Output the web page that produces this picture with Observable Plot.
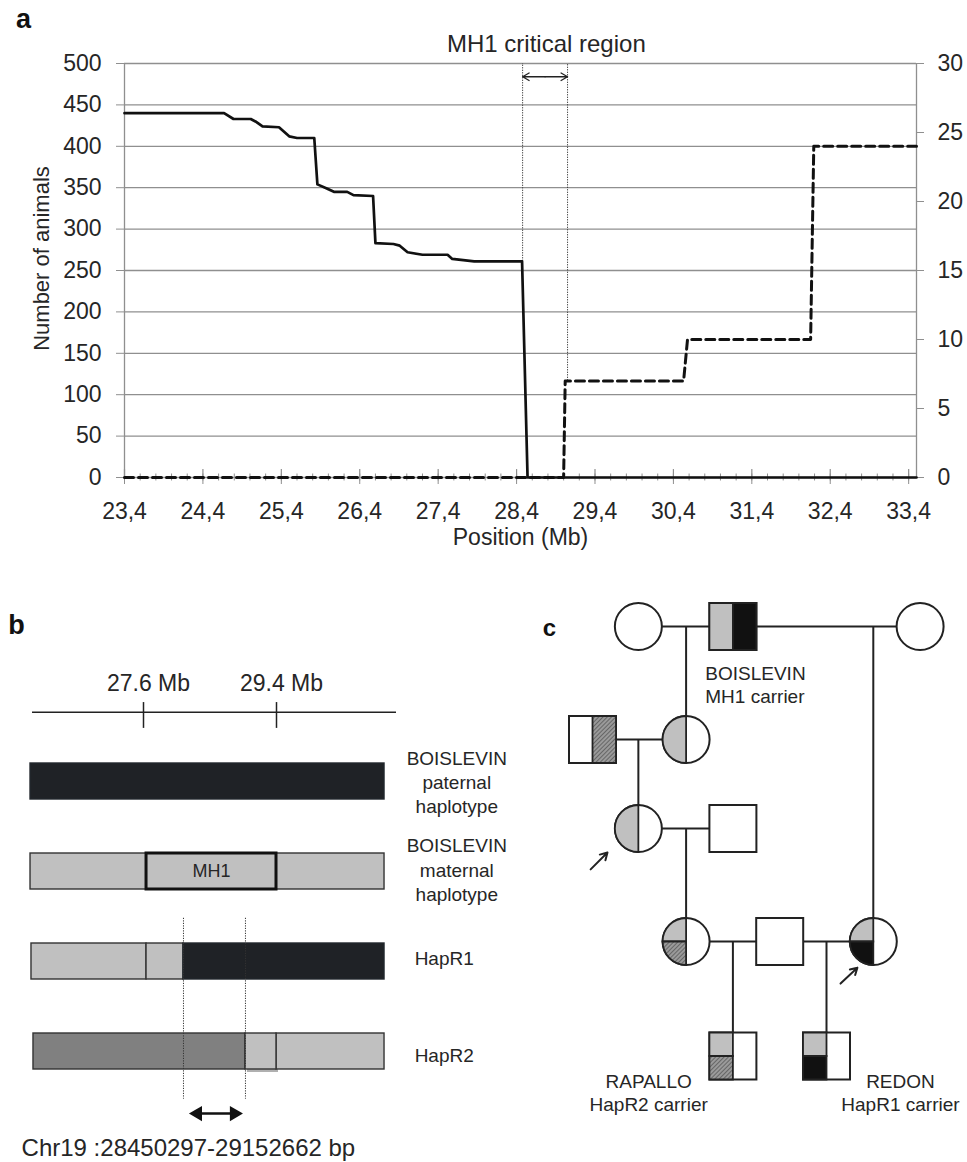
<!DOCTYPE html>
<html><head><meta charset="utf-8">
<script src="https://cdn.jsdelivr.net/npm/d3@7"></script>
<script src="https://cdn.jsdelivr.net/npm/@observablehq/plot@0.6"></script>
<style>
html,body{margin:0;padding:0;background:#fff;}
#fig{position:relative;width:967px;height:1162px;overflow:hidden;font-family:"Liberation Sans",Arial,sans-serif;}
#fig svg{position:absolute;overflow:visible;}
</style></head><body><div id="fig"></div>
<script>
// ---------- Panel a data ----------
const positionTicks = [23.4, 24.4, 25.4, 26.4, 27.4, 28.4, 29.4, 30.4, 31.4, 32.4, 33.4];
const animalTicks = [0, 50, 100, 150, 200, 250, 300, 350, 400, 450, 500];
const carrierTicks = [0, 5, 10, 15, 20, 25, 30];
// Number of animals (left axis, solid line)
const animalsPos   = [23.4, 24.67, 24.79, 25.01, 25.07, 25.16, 25.37, 25.5, 25.6, 25.82, 25.86, 25.98, 26.07, 26.24, 26.32, 26.57, 26.6, 26.83, 26.91, 27.01, 27.2, 27.52, 27.58, 27.86, 28.47, 28.54, 33.5];
const animalsCount = [440,  440,   433,   433,   430,   424,   423,   412,  410,  410,   354,   349,   345,   345,   341,   340,   283,  282,   280,   272,   269,  269,   264,   261,   261,   0,     0];
// Carriers (right axis, dashed line)
const carriersPos   = [23.4, 29.0, 29.02, 30.53, 30.58, 32.15, 32.19, 33.5];
const carriersCount = [0,    0,    7,     7,     10,    10,    24,    24];
// MH1 critical region bounds (Mb) and where the dotted guides stop (left-axis units)
const criticalBounds = [28.477, 29.05];
const criticalStops  = [261, 7 * 500 / 30];

// ---------- Panel b data ----------
const scaleTicksMb = [27.6, 29.4];
const hapRows = [0, 1, 2, 3];
// [row, start Mb, end Mb, tone]
const hapSegments = [
  [0, 26.071, 30.862, "dark"],
  [1, 26.071, 30.862, "light"],
  [2, 26.084, 27.641, "light"],
  [2, 27.641, 28.141, "light"],
  [2, 28.141, 30.862, "dark"],
  [3, 26.111, 28.98, "mid"],
  [3, 29.4, 30.862, "light"],
  [3, 28.98, 29.4, "light"]
];
const mh1Box = [27.641, 29.4];
const breakpointsMb = [28.141, 28.98];
const hapLabels = [
  ["BOISLEVIN\npaternal\nhaplotype", 31.84, 0.0],
  ["BOISLEVIN\nmaternal\nhaplotype", 31.84, 0.97],
  ["HapR1", 31.67, 1.956],
  ["HapR2", 31.67, 3.03]
];
const regionText = "Chr19 :28450297-29152662 bp";

// ---------- Panel c data (pedigree; col / row in layout units) ----------
const individuals = [
  {id: "dam1",      col: 0.98, row: 0,     sex: "F"},
  {id: "BOISLEVIN", col: 3,    row: 0,     sex: "M"},
  {id: "dam2",      col: 7,    row: 0,     sex: "F"},
  {id: "sire2",     col: 0,    row: 2.415, sex: "M"},
  {id: "daughter",  col: 2,    row: 2.415, sex: "F"},
  {id: "proband1",  col: 0.98, row: 4.316, sex: "F"},
  {id: "sire3",     col: 3,    row: 4.316, sex: "M"},
  {id: "dam4",      col: 2,    row: 6.731, sex: "F"},
  {id: "sire4",     col: 4,    row: 6.731, sex: "M"},
  {id: "proband2",  col: 6,    row: 6.731, sex: "F"},
  {id: "RAPALLO",   col: 3,    row: 9.177, sex: "M"},
  {id: "REDON",     col: 5,    row: 9.177, sex: "M"}
];
const shading = [
  ["BOISLEVIN", "left", "gray"], ["BOISLEVIN", "right", "black"],
  ["sire2", "right", "hatch"],
  ["daughter", "left", "gray"],
  ["proband1", "left", "gray"],
  ["dam4", "topLeft", "gray"], ["dam4", "bottomLeft", "hatch"],
  ["proband2", "topLeft", "gray"], ["proband2", "bottomLeft", "black"],
  ["RAPALLO", "topLeft", "gray"], ["RAPALLO", "bottomLeft", "hatch"],
  ["REDON", "topLeft", "gray"], ["REDON", "bottomLeft", "black"]
];
const matings = [
  ["dam1", "BOISLEVIN", "daughter"],
  ["BOISLEVIN", "dam2", "proband2"],
  ["sire2", "daughter", "proband1"],
  ["proband1", "sire3", "dam4"],
  ["dam4", "sire4", "RAPALLO"],
  ["sire4", "proband2", "REDON"]
];
const probandArrows = [
  {x1: -0.04, y1: 5.19, x2: 0.32, y2: 4.83},
  {x1: 5.3,  y1: 7.63, x2: 5.66, y2: 7.29}
];
const pedigreeLabels = [
  {text: "BOISLEVIN\nMH1 carrier", col: 2.41, row: 1.23, anchor: "start"},
  {text: "RAPALLO\nHapR2 carrier", col: 1.2, row: 9.94, anchor: "middle"},
  {text: "REDON\nHapR1 carrier", col: 6.58, row: 9.94, anchor: "middle"}
];

// ---------- helpers ----------
const FONT = "'Liberation Sans', Arial, sans-serif";
const INK = "#262626";
const GRID = "#8f8f8f";
const fig = document.getElementById("fig");
function place(el, left, top) {
  el.style.position = "absolute";
  el.style.left = left + "px";
  el.style.top = top + "px";
  el.style.maxWidth = "none";
  fig.appendChild(el);
}

// ================= Panel a =================
const R = 500 / 30;
const solid = animalsPos.map((x, i) => ({x, y: animalsCount[i]}));
const dashed = carriersPos.map((x, i) => ({x, y: carriersCount[i] * R}));
const minorTicks = d3.range(0, 51).map(i => +(23.4 + i * 0.2).toFixed(1)).filter(v => v <= 33.5);
const critMid = (criticalBounds[0] + criticalBounds[1]) / 2;

const plotA = Plot.plot({
  width: 967, height: 560,
  marginLeft: 124, marginRight: 51, marginTop: 63, marginBottom: 83,
  x: {domain: [23.4, 33.5], label: null},
  y: {domain: [0, 500], label: null},
  style: {fontFamily: FONT, background: "transparent", overflow: "visible", color: INK},
  marks: [
    Plot.ruleY(animalTicks, {stroke: GRID, strokeWidth: 1.3}),
    Plot.ruleX([23.4, 33.5], {stroke: GRID, strokeWidth: 1.3}),
    Plot.axisY(animalTicks, {anchor: "left", tickSize: 8, tickPadding: 15, stroke: GRID, fill: INK, fontSize: 23, label: null}),
    Plot.axisY(carrierTicks.map(v => v * R), {anchor: "right", tickSize: 7, tickPadding: 14, stroke: GRID, fill: INK, fontSize: 23, label: null, tickFormat: d => String(Math.round(d / R))}),
    Plot.axisX(positionTicks, {tickSize: 7, tickPadding: 18, stroke: GRID, fill: INK, fontSize: 23, label: null, tickFormat: d => d.toFixed(1).replace(".", ",")}),
    Plot.ruleX(positionTicks, {x: d => d, y1: 0, y2: 9.6, stroke: GRID, strokeWidth: 1.2}),
    Plot.ruleX(minorTicks, {x: d => d, y1: -4.2, y2: 4.2, stroke: GRID, strokeWidth: 1}),
    Plot.ruleX(criticalBounds, {x: d => d, y1: (d, i) => criticalStops[i], y2: 500, stroke: "#333", strokeWidth: 1, strokeDasharray: "1.2,1.3"}),
    Plot.arrow([criticalBounds[0], criticalBounds[1]], {x1: critMid, x2: d => d, y1: 484, y2: 484, stroke: "#222", strokeWidth: 1.3, headLength: 11}),
    Plot.line(dashed, {x: "x", y: "y", stroke: "#111", strokeWidth: 3, strokeDasharray: "9,5"}),
    Plot.line(solid, {x: "x", y: "y", stroke: "#111", strokeWidth: 2.7}),
    Plot.text(["MH1 critical region"], {x: 28.78, y: 500, dy: -19, text: d => d, fontSize: 24, fill: INK}),
    Plot.text(["Number of animals"], {frameAnchor: "left", textAnchor: "middle", lineAnchor: "middle", rotate: -90, dx: -83, dy: -12, text: d => d, fontSize: 22, fill: INK}),
    Plot.text(["Position (Mb)"], {frameAnchor: "bottom", lineAnchor: "middle", dy: 60, text: d => d, fontSize: 23, fill: INK}),
    Plot.text(["a"], {frameAnchor: "top-left", textAnchor: "middle", lineAnchor: "middle", dx: -101, dy: -44, text: d => d, fontSize: 27, fontWeight: "bold", fill: "#111"})
  ]
});
place(plotA, 0, 0);

// ================= Panel b =================
const toneColor = {dark: "#1f2226", light: "#c0c0c0", mid: "#808080"};
const segs = hapSegments.map(([row, start, end, tone]) => ({row, start, end, tone}));
const plotB = Plot.plot({
  width: 520, height: 602, margin: 0,
  x: {domain: [27.6, 29.4], range: [143, 276], axis: null},
  y: {domain: [0, 3], range: [221, 491], axis: null},
  color: {type: "identity"},
  style: {fontFamily: FONT, background: "transparent", overflow: "visible", color: INK},
  marks: [
    Plot.ruleY([-0.77], {y: d => d, x1: 26.098, x2: 31.024, stroke: "#222", strokeWidth: 1.5}),
    Plot.ruleX(scaleTicksMb, {x: d => d, y1: -0.877, y2: -0.59, stroke: "#222", strokeWidth: 1.5}),
    Plot.text(scaleTicksMb, {x: d => d, y: -1.09, dx: 5, text: d => `${d} Mb`, fontSize: 23, fill: INK}),
    // shadow under the small HapR2 box
    Plot.rect([segs[7]], {x1: "start", x2: "end", y1: d => d.row - 0.2, y2: d => d.row + 0.2, dx: 2, dy: 3, fill: "#b0b0b0"}),
    Plot.rect(segs, {x1: "start", x2: "end", y1: d => d.row - 0.2, y2: d => d.row + 0.2,
      fill: d => toneColor[d.tone], stroke: d => d.tone === "dark" ? "#22272d" : "#333", strokeWidth: 1.4}),
    Plot.rect([mh1Box], {x1: d => d[0], x2: d => d[1], y1: 0.8, y2: 1.2, fill: "none", stroke: "#111", strokeWidth: 3}),
    Plot.text(["MH1"], {x: (mh1Box[0] + mh1Box[1]) / 2, y: 1, text: d => d, fontSize: 18, fill: INK}),
    Plot.ruleX(breakpointsMb, {x: d => d, y1: 1.52, y2: 3.53, stroke: "#333", strokeWidth: 1, strokeDasharray: "1.2,1.3"}),
    Plot.link([breakpointsMb], {x1: d => d[0] + 0.19, x2: d => d[1] - 0.19, y1: 3.69, y2: 3.69, stroke: "#111", strokeWidth: 2.5}),
    Plot.dot([breakpointsMb[0] + 0.07], {x: d => d, y: 3.69, dx: 9, symbol: "triangle", rotate: -90, r: 5.6, fill: "#111", stroke: "none"}),
    Plot.dot([breakpointsMb[1] - 0.03], {x: d => d, y: 3.69, dx: -9, symbol: "triangle", rotate: 90, r: 5.6, fill: "#111", stroke: "none"}),
    Plot.text(hapLabels, {x: d => d[1], y: d => d[2], text: d => d[0], fontSize: 19, lineHeight: 1.27, fill: INK}),
    Plot.text([regionText], {x: 25.95, y: 4.08, text: d => d, textAnchor: "start", fontSize: 24, fill: INK}),
    Plot.text(["b"], {x: 25.88, y: -1.73, text: d => d, fontSize: 27, fontWeight: "bold", fill: "#111"})
  ]
});
place(plotB, 0, 560);

// ================= Panel c =================
const rad = size => Math.sqrt(size / Math.PI);
const sym = {
  circle:    {draw(c, s) { const r = rad(s); c.moveTo(r, 0); c.arc(0, 0, r, 0, 2 * Math.PI); c.closePath(); }},
  square:    {draw(c, s) { const r = rad(s); c.rect(-r, -r, 2 * r, 2 * r); }},
  cleft:     {draw(c, s) { const r = rad(s); c.moveTo(0, -r); c.arc(0, 0, r, -Math.PI / 2, -3 * Math.PI / 2, true); c.closePath(); }},
  ctopLeft:  {draw(c, s) { const r = rad(s); c.moveTo(0, 0); c.lineTo(0, -r); c.arc(0, 0, r, -Math.PI / 2, -Math.PI, true); c.closePath(); }},
  cbottomLeft: {draw(c, s) { const r = rad(s); c.moveTo(0, 0); c.lineTo(-r, 0); c.arc(0, 0, r, Math.PI, Math.PI / 2, true); c.closePath(); }},
  sleft:     {draw(c, s) { const r = rad(s); c.rect(-r, -r, r, 2 * r); }},
  sright:    {draw(c, s) { const r = rad(s); c.rect(0, -r, r, 2 * r); }},
  stopLeft:  {draw(c, s) { const r = rad(s); c.rect(-r, -r, r, r); }},
  sbottomLeft: {draw(c, s) { const r = rad(s); c.rect(-r, 0, r, r); }}
};
const byId = Object.fromEntries(individuals.map(d => [d.id, d]));
const shadeColor = {gray: "#c0c0c0", black: "#111111", hatch: "url(#hatch)"};
const shades = shading.map(([id, part, tone]) => {
  const ind = byId[id];
  return {col: ind.col, row: ind.row, key: (ind.sex === "M" ? "s" : "c") + part, fill: shadeColor[tone]};
});
const lines = [];
for (const [a, b, child] of matings) {
  const A = byId[a], B = byId[b], C = byId[child];
  lines.push({x1: A.col, y1: A.row, x2: B.col, y2: B.row});
  lines.push({x1: C.col, y1: A.row, x2: C.col, y2: C.row});
}
const RSYM = 23.5;
const shadeMarks = Object.keys(sym).filter(k => k !== "circle" && k !== "square").map(k =>
  Plot.dot(shades.filter(d => d.key === k), {x: "col", y: "row", r: RSYM, symbol: sym[k], fill: d => d.fill, stroke: "#222", strokeWidth: 1.8})
);
const plotC = Plot.plot({
  width: 447, height: 602, margin: 0,
  x: {domain: [0, 7], range: [72, 399.6], axis: null},
  y: {domain: [0, 10], range: [66, 534], axis: null},
  color: {type: "identity"},
  style: {fontFamily: FONT, background: "transparent", overflow: "visible", color: INK},
  marks: [
    Plot.link(lines, {x1: "x1", y1: "y1", x2: "x2", y2: "y2", stroke: "#222", strokeWidth: 2}),
    Plot.dot(individuals.filter(d => d.sex === "F"), {x: "col", y: "row", r: RSYM, symbol: sym.circle, fill: "white", stroke: "#222", strokeWidth: 2}),
    Plot.dot(individuals.filter(d => d.sex === "M"), {x: "col", y: "row", r: RSYM, symbol: sym.square, fill: "white", stroke: "#222", strokeWidth: 2}),
    ...shadeMarks,
    Plot.arrow(probandArrows, {x1: "x1", y1: "y1", x2: "x2", y2: "y2", stroke: "#222", strokeWidth: 2, headLength: 12}),
    Plot.text(pedigreeLabels.filter(d => d.anchor === "start"), {x: "col", y: "row", text: "text", textAnchor: "start", fontSize: 19, lineHeight: 1.22, fill: INK}),
    Plot.text(pedigreeLabels.filter(d => d.anchor === "middle"), {x: "col", y: "row", text: "text", fontSize: 19, lineHeight: 1.22, fill: INK}),
    Plot.text(["c"], {x: -0.92, y: 0.04, text: d => d, fontSize: 24, fontWeight: "bold", fill: "#111"})
  ]
});
plotC.insertAdjacentHTML("afterbegin",
  '<defs><pattern id="hatch" width="3" height="3" patternUnits="userSpaceOnUse" patternTransform="rotate(45)">' +
  '<rect width="3" height="3" fill="#9a9a9a"></rect><line x1="0" y1="0" x2="0" y2="3" stroke="#4a4a4a" stroke-width="1.3"></line></pattern></defs>');
place(plotC, 520, 560);
</script>
</body></html>
